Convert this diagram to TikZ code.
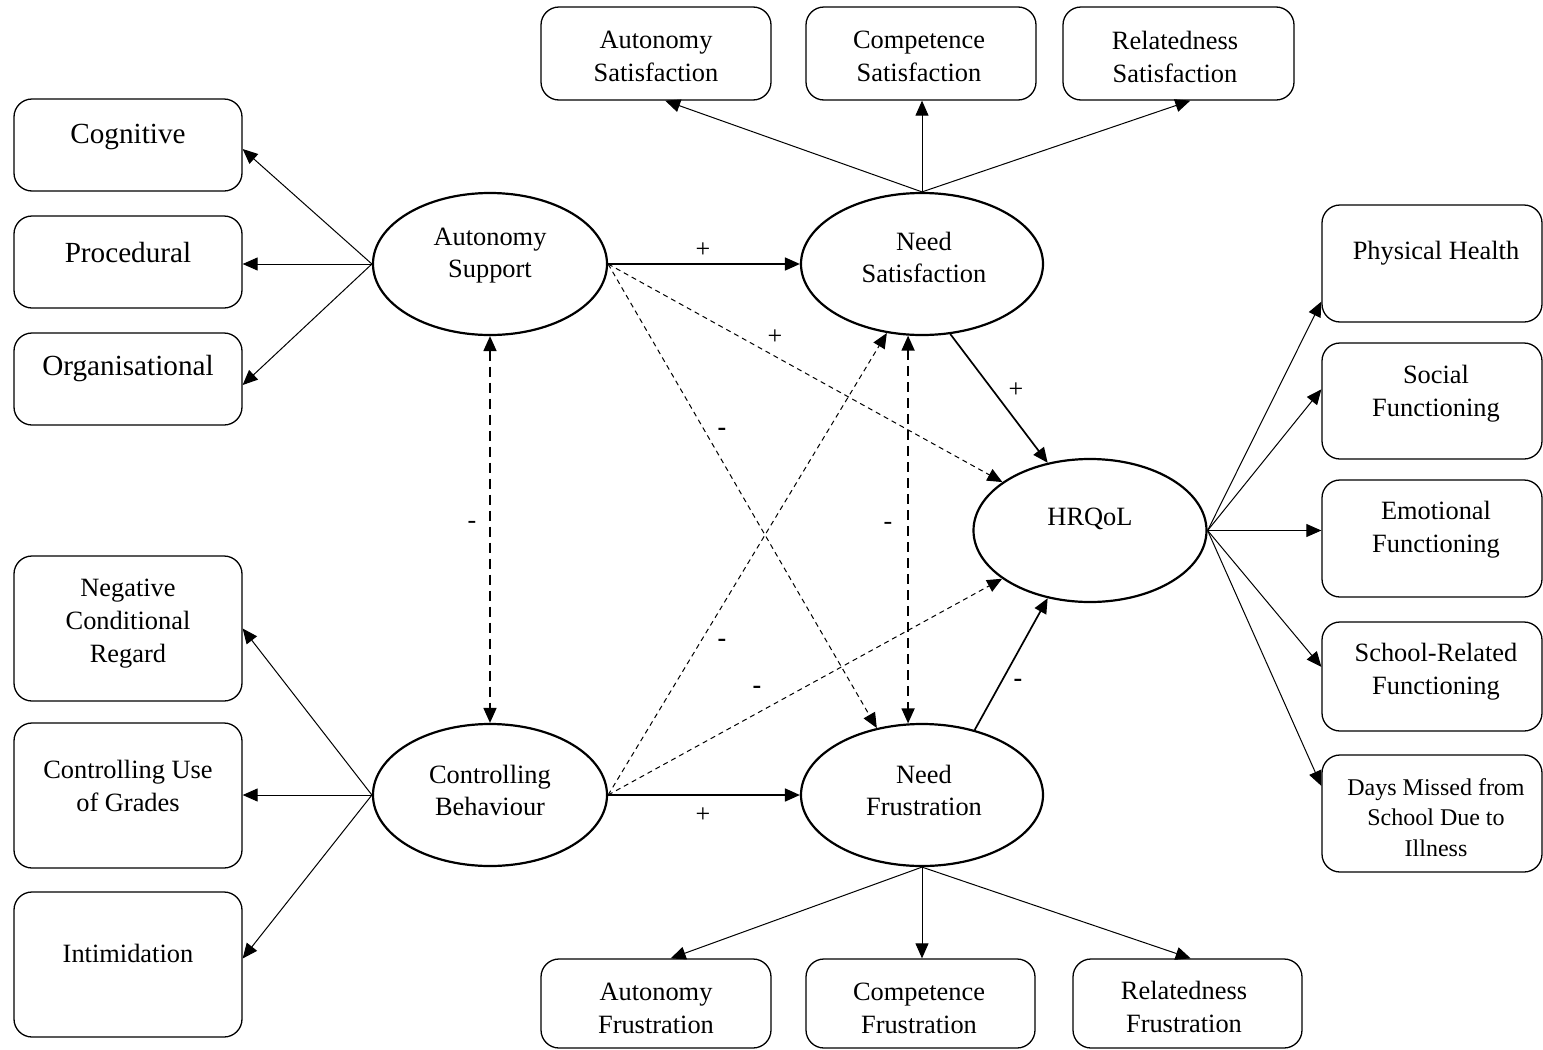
\documentclass[tikz,border=0pt]{standalone}
\usepackage{fontspec}
\setmainfont{Liberation Serif}
\usetikzlibrary{arrows.meta,shapes.geometric}
\begin{document}
\begin{tikzpicture}[x=0.5pt,y=-0.5pt,
 box/.style={draw, rounded corners=9pt, line width=0.65pt, inner sep=0pt},
 lat/.style={draw, ellipse, line width=1.1pt, inner sep=0pt},
 txt/.style={align=center, inner sep=0pt, font=\fontsize{13.2}{16.5}\selectfont},
 bigtxt/.style={align=center, inner sep=0pt, font=\fontsize{14.6}{17}\selectfont},
 smalltxt/.style={align=center, inner sep=0pt, font=\fontsize{12}{15.25}\selectfont},
 ltxt/.style={align=center, inner sep=0pt, font=\fontsize{13.2}{16}\selectfont},
 tip/.style={-{Triangle[length=7.5pt,width=6.5pt]}},
 meas/.style={tip, line width=0.5pt},
 strpath/.style={tip, line width=0.85pt},
 dsh/.style={tip, line width=0.5pt, dash pattern=on 2.5pt off 2pt},
 cov/.style={{Triangle[length=7.5pt,width=6.5pt]}-{Triangle[length=7.5pt,width=6.5pt]}, line width=0.85pt, dash pattern=on 5pt off 3pt},
 sign/.style={inner sep=0pt, font=\fontsize{13}{13}\selectfont}
]
\useasboundingbox (0,0) rectangle (1543,1050);

% latent variables
\node[lat, minimum width=117pt, minimum height=71pt] (as) at (490,264) {};
\node[ltxt] (asT) at (490,256) {Autonomy\\Support};
\node[lat, minimum width=117pt, minimum height=71pt] (cb) at (490,795) {};
\node[ltxt] (cbT) at (490,790) {Controlling\\Behaviour};
\node[lat, minimum width=121pt, minimum height=71pt] (ns) at (922,264) {};
\node[ltxt] (nsT) at (924,257) {Need\\Satisfaction};
\node[lat, minimum width=121pt, minimum height=71pt] (nf) at (922,795) {};
\node[ltxt] (nfT) at (924,790.5) {Need\\Frustration};
\node[lat, minimum width=116.5pt, minimum height=71.5pt] (hr) at (1090,530.5) {};
\node[ltxt] (hrT) at (1090,519) {HRQoL};

% left boxes
\node[box, minimum width=114pt, minimum height=46pt] (cogB) at (128,145) {};
\node[bigtxt] (cogT) at (128,137) {Cognitive};
\node[box, minimum width=114pt, minimum height=46pt] (procB) at (128,262) {};
\node[bigtxt] (procT) at (128,253) {Procedural};
\node[box, minimum width=114pt, minimum height=46pt] (orgB) at (128,379) {};
\node[bigtxt] (orgT) at (128,369) {Organisational};
\node[box, minimum width=114pt, minimum height=72.5pt] (ncrB) at (128,628.5) {};
\node[txt] (ncrT) at (128,623.5) {Negative\\Conditional\\Regard};
\node[box, minimum width=114pt, minimum height=72.5pt] (cugB) at (128,795.5) {};
\node[txt] (cugT) at (128,786) {Controlling Use\\of Grades};
\node[box, minimum width=114pt, minimum height=72.5pt] (intB) at (128,964.5) {};
\node[txt] (intT) at (128,953) {Intimidation};

% top boxes
\node[box, minimum width=115pt, minimum height=46.5pt] (asatB) at (656,53.5) {};
\node[txt] (asatT) at (656,56.5) {Autonomy\\Satisfaction};
\node[box, minimum width=115pt, minimum height=46.5pt] (csatB) at (921,53.5) {};
\node[txt] (csatT) at (919,56.5) {Competence\\Satisfaction};
\node[box, minimum width=115.5pt, minimum height=46.5pt] (rsatB) at (1178.5,53.5) {};
\node[txt] (rsatT) at (1175,56.5) {Relatedness\\Satisfaction};

% bottom boxes
\node[box, minimum width=115pt, minimum height=44.5pt] (afrB) at (656,1003.5) {};
\node[txt] (afrT) at (656,1008) {Autonomy\\Frustration};
\node[box, minimum width=114.5pt, minimum height=44.5pt] (cfrB) at (920.5,1003.5) {};
\node[txt] (cfrT) at (919,1008) {Competence\\Frustration};
\node[box, minimum width=114.5pt, minimum height=44.5pt] (rfrB) at (1187.5,1003.5) {};
\node[txt] (rfrT) at (1184,1007) {Relatedness\\Frustration};

% right boxes
\node[box, minimum width=110pt, minimum height=58.5pt] (phB) at (1432,263.5) {};
\node[txt] (phT) at (1436,253) {Physical Health};
\node[box, minimum width=110pt, minimum height=58pt] (socB) at (1432,401) {};
\node[txt] (socT) at (1436,393.5) {Social\\Functioning};
\node[box, minimum width=110pt, minimum height=58.5pt] (emB) at (1432,538.5) {};
\node[txt] (emT) at (1436,530) {Emotional\\Functioning};
\node[box, minimum width=110pt, minimum height=54.5pt] (schB) at (1432,676.5) {};
\node[txt] (schT) at (1436,671.5) {School-Related\\Functioning};
\node[box, minimum width=110pt, minimum height=58.5pt] (dayB) at (1432,813.5) {};
\node[smalltxt] (dayT) at (1436,817.5) {Days Missed from\\School Due to\\Illness};

% measurement arrows
\draw[meas] (as.west) -- (cogB.-2.5);
\draw[meas] (as.west) -- (as.west -| procB.east);
\draw[meas] (as.west) -- (orgB.-3);
\draw[meas] (cb.west) -- (ncrB.east);
\draw[meas] (cb.west) -- (cb.west -| cugB.east);
\draw[meas] (cb.west) -- (intB.3.8);
\draw[meas] (ns.north) -- (asatB.-79);
\draw[meas] (ns.north) -- (ns.north |- csatB.south);
\draw[meas] (ns.north) -- (rsatB.-76);
\draw[meas] (nf.south) -- (afrB.72.7);
\draw[meas] (nf.south) -- (nf.south |- cfrB.north);
\draw[meas] (nf.south) -- (rfrB.86.8);
\draw[meas] (hr.east) -- (phB.199.3);
\draw[meas] (hr.east) -- (socB.174.3);
\draw[meas] (hr.east) -- (hr.east -| emB.west);
\draw[meas] (hr.east) -- (schB.175.6);
\draw[meas] (hr.east) -- (dayB.166.5);

% structural paths
\draw[strpath] (as.east) -- (ns.west);
\draw[strpath] (cb.east) -- (nf.west);
\draw[strpath] (ns.-68) -- (hr.122);
\draw[strpath] (nf.51.6) -- (hr.-122);
\draw[dsh] (as.east) -- (hr);
\draw[dsh] (cb.east) -- (hr);
\draw[dsh] (as.east) -- (nf.124);
\draw[dsh] (cb.east) -- (ns.-117);
\draw[cov] (as.south) -- (cb.north);
\draw[cov] (ns.-101) -- (nf.101);

% signs
\node[sign] (s1) at (703,250) {+};
\node[sign] (s2) at (775,337) {+};
\node[sign] (s3) at (1016,390) {+};
\node[sign] (s4) at (703,815) {+};
\node[sign] (s5) at (722,432) {\textbf{-}};
\node[sign] (s6) at (722,643) {\textbf{-}};
\node[sign] (s7) at (757,690) {\textbf{-}};
\node[sign] (s8) at (1018,683) {\textbf{-}};
\node[sign] (s9) at (472,525) {-};
\node[sign] (s10) at (888,526) {-};
\end{tikzpicture}
\end{document}
